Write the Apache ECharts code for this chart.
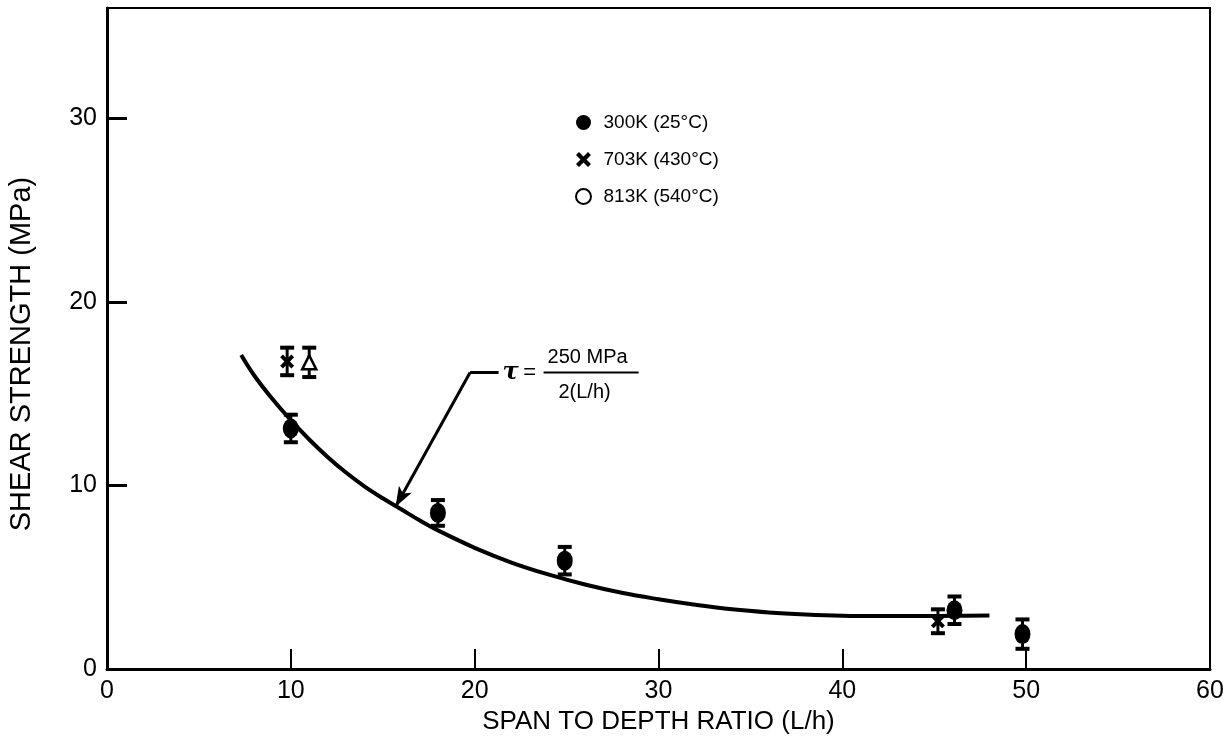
<!DOCTYPE html>
<html>
<head>
<meta charset="utf-8">
<script src="https://cdn.jsdelivr.net/npm/echarts@6/dist/echarts.min.js"></script>
<style>
html,body{margin:0;padding:0;background:#fff;}
#c{width:1231px;height:753px;}
</style>
</head>
<body>
<div id="c"></div>
<script>
// ---- data ----
const xTicks = [0, 10, 20, 30, 40, 50, 60];
const yTicks = [0, 10, 20, 30];
// [L/h, shear strength, half error]
const s300 = [[10.0, 13.1, 0.75], [18.0, 8.5, 0.7], [24.9, 5.9, 0.75], [46.1, 3.2, 0.75], [49.8, 1.9, 0.8]];
const s703 = [[9.8, 16.75, 0.75], [45.2, 2.6, 0.65]];
const s813 = [[11.0, 16.7, 0.8]];
const curveX = [7.3, 8, 9, 10, 11, 12, 13, 14, 15, 16, 17, 18, 20, 22, 24, 26, 28, 30, 32, 34, 36, 38, 40, 42, 44, 46, 48];
const curveY = [17.1, 16.0, 14.7, 13.55, 12.5, 11.55, 10.7, 9.95, 9.3, 8.7, 8.1, 7.55, 6.6, 5.8, 5.15, 4.6, 4.15, 3.8, 3.5, 3.25, 3.08, 2.97, 2.9, 2.88, 2.88, 2.9, 2.92];
const arrowTip = [15.7, 8.84];
const arrowBend = [19.75, 16.15];
const arrowEnd = [21.3, 16.15];
const names = ['300K (25\u00B0C)', '703K (430\u00B0C)', '813K (540\u00B0C)'];

const crossPath = 'path://M2,0 L5,3 L8,0 L10,2 L7,5 L10,8 L8,10 L5,7 L2,10 L0,8 L3,5 L0,2 Z';
const FONT = '"Liberation Sans", Arial, Helvetica, sans-serif';

function errRender(params, api) {
  const x = api.value(0), y = api.value(1), e = api.value(2);
  const t = api.coord([x, y + e]), b = api.coord([x, y - e]);
  const w = 7;
  return {
    type: 'group',
    children: [
      {type: 'line', shape: {x1: t[0], y1: t[1], x2: b[0], y2: b[1]}, style: {stroke: '#000', lineWidth: 3}},
      {type: 'line', shape: {x1: t[0] - w, y1: t[1], x2: t[0] + w, y2: t[1]}, style: {stroke: '#000', lineWidth: 4}},
      {type: 'line', shape: {x1: b[0] - w, y1: b[1], x2: b[0] + w, y2: b[1]}, style: {stroke: '#000', lineWidth: 4}}
    ]
  };
}

const chart = echarts.init(document.getElementById('c'), null, {renderer: 'canvas'});
const option = {
  backgroundColor: '#fff',
  animation: false,
  grid: {left: 107, right: 21, top: 8, bottom: 84, show: true, borderColor: '#000', borderWidth: 2, backgroundColor: 'transparent'},
  legend: {
    orient: 'vertical', left: 570, top: 108, itemWidth: 30, itemHeight: 15, itemGap: 18,
    selectedMode: false,
    textStyle: {fontFamily: FONT, fontSize: 19, color: '#000'},
    data: [
      {name: names[0], icon: 'circle'},
      {name: names[1], icon: crossPath},
      {name: names[2], icon: 'circle'}
    ]
  },
  xAxis: {
    type: 'value', min: 0, max: 60, interval: 10,
    name: 'SPAN TO DEPTH RATIO (L/h)', nameLocation: 'middle', nameGap: 37,
    nameTextStyle: {fontFamily: FONT, fontSize: 26, color: '#000'},
    axisLine: {show: true, lineStyle: {color: '#000', width: 3}},
    axisTick: {show: true, inside: true, length: 20, lineStyle: {color: '#000', width: 2}},
    axisLabel: {fontFamily: FONT, fontSize: 25, color: '#000', margin: 10,
      formatter: v => xTicks.indexOf(v) >= 0 ? String(v) : ''},
    splitLine: {show: false}
  },
  yAxis: {
    type: 'value', min: 0, max: 36, interval: 10,
    axisLine: {show: true, lineStyle: {color: '#000', width: 3}},
    axisTick: {show: true, inside: true, length: 20, customValues: yTicks, lineStyle: {color: '#000', width: 3}},
    axisLabel: {fontFamily: FONT, fontSize: 25, color: '#000', margin: 10, customValues: yTicks,
      formatter: v => yTicks.indexOf(v) >= 0 ? String(v) : ''},
    splitLine: {show: false}
  },
  graphic: [],
  series: [
    {
      name: 'curve', type: 'line', data: curveX.map((x, i) => [x, curveY[i]]),
      smooth: 0.4, showSymbol: false, symbol: 'none',
      lineStyle: {color: '#000', width: 4}, z: 3,
      markLine: {
        silent: true, symbol: ['none', 'none'], label: {show: false},
        lineStyle: {color: '#000', width: 3, type: 'solid'},
        data: [
          [{coord: arrowTip, symbol: 'arrow', symbolSize: [11, 20]}, {coord: arrowBend, symbol: 'none'}],
          [{coord: arrowBend, symbol: 'none'}, {coord: arrowEnd, symbol: 'none'}]
        ]
      }
    },
    {name: 'err300', type: 'custom', renderItem: errRender, data: s300, z: 4, encode: {x: 0, y: 1}},
    {name: 'err703', type: 'custom', renderItem: errRender, data: s703, z: 4, encode: {x: 0, y: 1}},
    {name: 'err813', type: 'custom', renderItem: errRender, data: s813, z: 4, encode: {x: 0, y: 1}},
    {name: names[0], type: 'scatter', data: s300.map(d => [d[0], d[1]]), symbol: 'circle', symbolSize: [16, 20],
      itemStyle: {color: '#000', opacity: 1}, z: 5},
    {name: names[1], type: 'scatter', data: s703.map(d => [d[0], d[1]]), symbol: crossPath, symbolSize: 14,
      itemStyle: {color: '#000', opacity: 1}, z: 5},
    {name: names[2], type: 'scatter', data: s813.map(d => [d[0], d[1]]), symbol: 'triangle', symbolSize: [14, 14],
      itemStyle: {color: '#fff', borderColor: '#000', borderWidth: 2.5, opacity: 1}, z: 5}
  ]
};
chart.setOption(option);

// formula annotation positioned from the leader line's end (data coords)
const p = chart.convertToPixel({gridIndex: 0}, arrowEnd);
chart.setOption({
  graphic: [
    {type: 'text', x: 22, y: 354, rotation: Math.PI / 2,
      style: {text: 'SHEAR STRENGTH (MPa)', font: '29px ' + FONT, fill: '#000', align: 'center', verticalAlign: 'middle'}},
    {type: 'text', x: p[0] + 12, y: p[1], style: {text: '\u03C4', font: 'italic bold 24px "DejaVu Serif", serif', fill: '#000', align: 'center', verticalAlign: 'middle'}},
    {type: 'text', x: p[0] + 31, y: p[1], style: {text: '=', font: '22px ' + FONT, fill: '#000', align: 'center', verticalAlign: 'middle'}},
    {type: 'line', shape: {x1: p[0] + 45, y1: p[1], x2: p[0] + 140, y2: p[1]}, style: {stroke: '#000', lineWidth: 2}},
    {type: 'text', x: p[0] + 89, y: p[1] - 15, style: {text: '250 MPa', font: '20px ' + FONT, fill: '#000', align: 'center', verticalAlign: 'middle'}},
    {type: 'text', x: p[0] + 86, y: p[1] + 20, style: {text: '2(L/h)', font: '20px ' + FONT, fill: '#000', align: 'center', verticalAlign: 'middle'}}
  ]
});
</script>
</body>
</html>
